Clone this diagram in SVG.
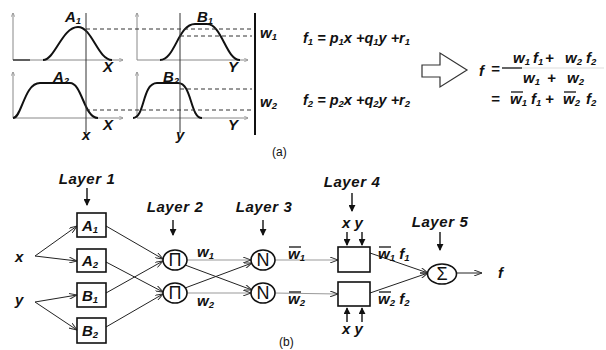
<svg xmlns="http://www.w3.org/2000/svg" width="606" height="350" viewBox="0 0 606 350">
<defs>
<style>
text{font-family:"Liberation Sans",Arial,sans-serif;font-weight:bold;font-style:italic;fill:#111}
.lbl{font-size:15px;letter-spacing:0.6px}
.sym{font-size:15px}
.fm{font-size:14.5px}
.sub{font-size:9.5px}
.ax{stroke:#888;stroke-width:1;fill:none}
.cv{stroke:#111;stroke-width:2;fill:none}
.dash{stroke:#333;stroke-width:1;stroke-dasharray:4 3;fill:none}
.vl{stroke:#333;stroke-width:1;fill:none}
.bar{stroke:#111;stroke-width:1.3}
.box{fill:#fff;stroke:#111;stroke-width:1.6}
.nd{fill:#fff;stroke:#111;stroke-width:1.6}
.cn{stroke:#222;stroke-width:1;fill:none;marker-end:url(#v)}
.cg{stroke:#999;stroke-width:1;fill:none;marker-end:url(#v)}
.la{stroke:#111;stroke-width:1.4;fill:none;marker-end:url(#d)}
.op{font-family:"Liberation Sans",Arial,sans-serif;font-style:normal;font-weight:normal;font-size:18px}
.cap{font-style:normal;font-weight:normal;font-size:12px}
</style>
<marker id="v" viewBox="0 0 8 6" refX="8" refY="3" markerWidth="8" markerHeight="6" markerUnits="userSpaceOnUse" orient="auto">
<path d="M0,0 L8,3 L0,6" fill="none" stroke="#333" stroke-width="1"/>
</marker>
<marker id="d" viewBox="0 0 8 8" refX="7" refY="4" markerWidth="7" markerHeight="7" markerUnits="userSpaceOnUse" orient="auto">
<path d="M0,0 L8,4 L0,8 Z" fill="#111"/>
</marker>
<marker id="s" viewBox="0 0 6 6" refX="6" refY="3" markerWidth="4" markerHeight="4" markerUnits="userSpaceOnUse" orient="auto">
<path d="M0,0 L6,3 L0,6" fill="none" stroke="#888" stroke-width="1"/>
</marker>
</defs>
<rect width="606" height="350" fill="#fff"/>

<!-- (a) membership functions -->
<g id="panel-a">
<path class="ax" d="M13,60 V13" marker-end="url(#s)"/>
<path class="ax" d="M13,60 H123" marker-end="url(#s)"/>
<path class="ax" d="M137,60 V13" marker-end="url(#s)"/>
<path class="ax" d="M137,60 H248" marker-end="url(#s)"/>
<path class="ax" d="M13,118 V72" marker-end="url(#s)"/>
<path class="ax" d="M13,118 H123" marker-end="url(#s)"/>
<path class="ax" d="M137,118 V72" marker-end="url(#s)"/>
<path class="ax" d="M137,118 H248" marker-end="url(#s)"/>
<path d="M13,60 H30" stroke="#333" stroke-width="1.4"/>
<path class="cv" d="M43,60 C55,60 62,27 78,27 C92,27 98,60 112,60"/>
<path class="cv" d="M13,118 C22,118 24,83 40,83 L70,83 C82,83 84,118 98,118"/>
<path class="cv" d="M160,60 C175,60 178,24 195,24 L207,24 C222,24 226,60 240,60"/>
<path class="cv" d="M133,118 C145,118 142,83 157,83 L178,83 C192,83 190,118 202,118"/>
<path class="vl" d="M86,13 V133"/>
<path class="vl" d="M180,13 V133"/>
<path class="dash" d="M86,29 H252"/>
<path class="dash" d="M180,36 H252"/>
<path class="dash" d="M180,89 H252"/>
<path class="dash" d="M86,110 H252"/>
<path d="M255,13 V135" stroke="#111" stroke-width="2"/>
<text class="sym" x="65" y="22">A<tspan class="sub" dy="2">1</tspan></text>
<text class="sym" x="53" y="82">A<tspan class="sub" dy="2">2</tspan></text>
<text class="sym" x="197" y="22">B<tspan class="sub" dy="2">1</tspan></text>
<text class="sym" x="163" y="82">B<tspan class="sub" dy="2">2</tspan></text>
<text class="sym" x="103" y="72">X</text>
<text class="sym" x="103" y="130">X</text>
<text class="sym" x="228" y="72">Y</text>
<text class="sym" x="228" y="130">Y</text>
<text class="sym" x="82" y="140">x</text>
<text class="sym" x="176" y="140">y</text>
<text class="sym" x="260" y="38">w<tspan class="sub" dy="2">1</tspan></text>
<text class="sym" x="260" y="107">w<tspan class="sub" dy="2">2</tspan></text>
</g>

<g id="rules">
<text class="fm" x="303" y="43">f<tspan class="sub" dy="2">1</tspan><tspan dy="-2"> = p</tspan><tspan class="sub" dy="2">1</tspan><tspan dy="-2">x +q</tspan><tspan class="sub" dy="2">1</tspan><tspan dy="-2">y +r</tspan><tspan class="sub" dy="2">1</tspan></text>
<text class="fm" x="303" y="105">f<tspan class="sub" dy="2">2</tspan><tspan dy="-2"> = p</tspan><tspan class="sub" dy="2">2</tspan><tspan dy="-2">x +q</tspan><tspan class="sub" dy="2">2</tspan><tspan dy="-2">y +r</tspan><tspan class="sub" dy="2">2</tspan></text>
</g>

<g id="implies">
<path d="M422,65 H440 V53 L467,70 L440,87 V77 H422 Z" fill="#fff" stroke="#333" stroke-width="1.2"/>
</g>

<g id="output-formula">
<text class="sym" x="479" y="76">f</text>
<text class="sym" x="491" y="74">=</text>
<path d="M502,68 H522" stroke="#111" stroke-width="1.3"/>
<path d="M522,68 H604" stroke="#ddd" stroke-width="1"/>
<text class="sym" x="513" y="63">w<tspan class="sub" dy="2">1</tspan></text>
<text class="sym" x="533" y="63">f<tspan class="sub" dy="2">1</tspan></text>
<text class="sym" x="545" y="63">+</text>
<text class="sym" x="565" y="63">w<tspan class="sub" dy="2">2</tspan></text>
<text class="sym" x="586" y="63">f<tspan class="sub" dy="2">2</tspan></text>
<text class="sym" x="523" y="83">w<tspan class="sub" dy="2">1</tspan></text>
<text class="sym" x="547" y="83">+</text>
<text class="sym" x="567" y="83">w<tspan class="sub" dy="2">2</tspan></text>
<text class="sym" x="491" y="104">=</text>
<text class="sym" x="510" y="104">w<tspan class="sub" dy="2">1</tspan></text>
<path class="bar" d="M511,92 H523"/>
<text class="sym" x="531" y="104">f<tspan class="sub" dy="2">1</tspan></text>
<text class="sym" x="545" y="104">+</text>
<text class="sym" x="563" y="104">w<tspan class="sub" dy="2">2</tspan></text>
<path class="bar" d="M564,92 H576"/>
<text class="sym" x="586" y="104">f<tspan class="sub" dy="2">2</tspan></text>
<text class="cap" x="272" y="156">(a)</text>
</g>

<!-- (b) network -->
<g id="connectors">
<path class="cn" d="M35,256 L77,226"/>
<path class="cn" d="M35,256 L77,261"/>
<path class="cn" d="M35,302 L77,295"/>
<path class="cn" d="M35,302 L77,330"/>
<path class="cn" d="M106,226 L163,259"/>
<path class="cn" d="M106,293 L163,261"/>
<path class="cn" d="M106,262 L163,292"/>
<path class="cn" d="M106,327 L163,294"/>
<path class="cg" d="M187,260 L251,260"/>
<path class="cg" d="M187,293 L251,293"/>
<path class="cn" d="M185,265 L252,290"/>
<path class="cn" d="M185,288 L252,263"/>
<path class="cg" d="M274,260 L338,260"/>
<path class="cg" d="M274,293 L338,294"/>
<path class="cn" d="M370,253 L428,273"/>
<path class="cn" d="M370,293 L428,273"/>
<path class="cn" d="M457,273 L482,273"/>
<path class="la" d="M87,188 V205"/>
<path class="la" d="M173,220 V235"/>
<path class="la" d="M263,220 V235"/>
<path class="la" d="M352,193 V211"/>
<path class="la" d="M440,232 V250"/>
<path class="la" d="M347,232 V245"/>
<path class="la" d="M362,232 V245"/>
<path class="la" d="M347,322 V308"/>
<path class="la" d="M362,322 V308"/>
</g>

<g id="in-x"><text class="sym" x="15" y="262">x</text></g>
<g id="in-y"><text class="sym" x="15" y="305">y</text></g>

<g id="layer1-label"><text class="lbl" x="87" y="184" text-anchor="middle">Layer 1</text></g>
<g id="layer2-label"><text class="lbl" x="175" y="212" text-anchor="middle">Layer 2</text></g>
<g id="layer3-label"><text class="lbl" x="264" y="212" text-anchor="middle">Layer 3</text></g>
<g id="layer4-label"><text class="lbl" x="352" y="187" text-anchor="middle">Layer 4</text></g>
<g id="layer5-label"><text class="lbl" x="440" y="227" text-anchor="middle">Layer 5</text></g>

<g id="A1"><rect class="box" x="77" y="213" width="29" height="24"/><text class="sym" x="82" y="231">A<tspan class="sub" dy="2">1</tspan></text></g>
<g id="A2"><rect class="box" x="77" y="249" width="29" height="23"/><text class="sym" x="82" y="266">A<tspan class="sub" dy="2">2</tspan></text></g>
<g id="B1"><rect class="box" x="77" y="283" width="29" height="24"/><text class="sym" x="82" y="301">B<tspan class="sub" dy="2">1</tspan></text></g>
<g id="B2"><rect class="box" x="77" y="318" width="29" height="25"/><text class="sym" x="82" y="336">B<tspan class="sub" dy="2">2</tspan></text></g>

<g id="P1"><ellipse class="nd" cx="175" cy="260" rx="12" ry="10"/><text class="op" x="175" y="266" text-anchor="middle">Π</text></g>
<g id="P2"><ellipse class="nd" cx="175" cy="293" rx="12" ry="10"/><text class="op" x="175" y="299" text-anchor="middle">Π</text></g>
<text class="sym" x="197" y="257">w<tspan class="sub" dy="2">1</tspan></text>
<text class="sym" x="197" y="306">w<tspan class="sub" dy="2">2</tspan></text>

<g id="N1"><ellipse class="nd" cx="263" cy="260" rx="12" ry="10"/><text class="op" x="263" y="266" text-anchor="middle">N</text></g>
<g id="N2"><ellipse class="nd" cx="263" cy="293" rx="12" ry="10"/><text class="op" x="263" y="299" text-anchor="middle">N</text></g>
<text class="sym" x="288" y="259">w<tspan class="sub" dy="2">1</tspan></text>
<path class="bar" d="M289,247 H301"/>
<text class="sym" x="288" y="304">w<tspan class="sub" dy="2">2</tspan></text>
<path class="bar" d="M289,292 H301"/>

<g id="L4a"><rect class="box" x="338" y="247" width="32" height="25"/></g>
<g id="L4b"><rect class="box" x="338" y="282" width="32" height="24"/></g>
<text class="sym" x="342" y="228">x y</text>
<text class="sym" x="342" y="334">x y</text>
<text class="sym" x="378" y="259">w<tspan class="sub" dy="2">1</tspan><tspan dy="-2"> f</tspan><tspan class="sub" dy="2">1</tspan></text>
<path class="bar" d="M379,247 H391"/>
<text class="sym" x="378" y="304">w<tspan class="sub" dy="2">2</tspan><tspan dy="-2"> f</tspan><tspan class="sub" dy="2">2</tspan></text>
<path class="bar" d="M379,292 H391"/>

<g id="S"><ellipse class="nd" cx="442" cy="274" rx="14.5" ry="10"/><text class="op" x="442" y="280" text-anchor="middle">Σ</text></g>
<g id="out-f"><text class="sym" x="498" y="278">f</text></g>
<text class="cap" x="279" y="346">(b)</text>
</svg>
